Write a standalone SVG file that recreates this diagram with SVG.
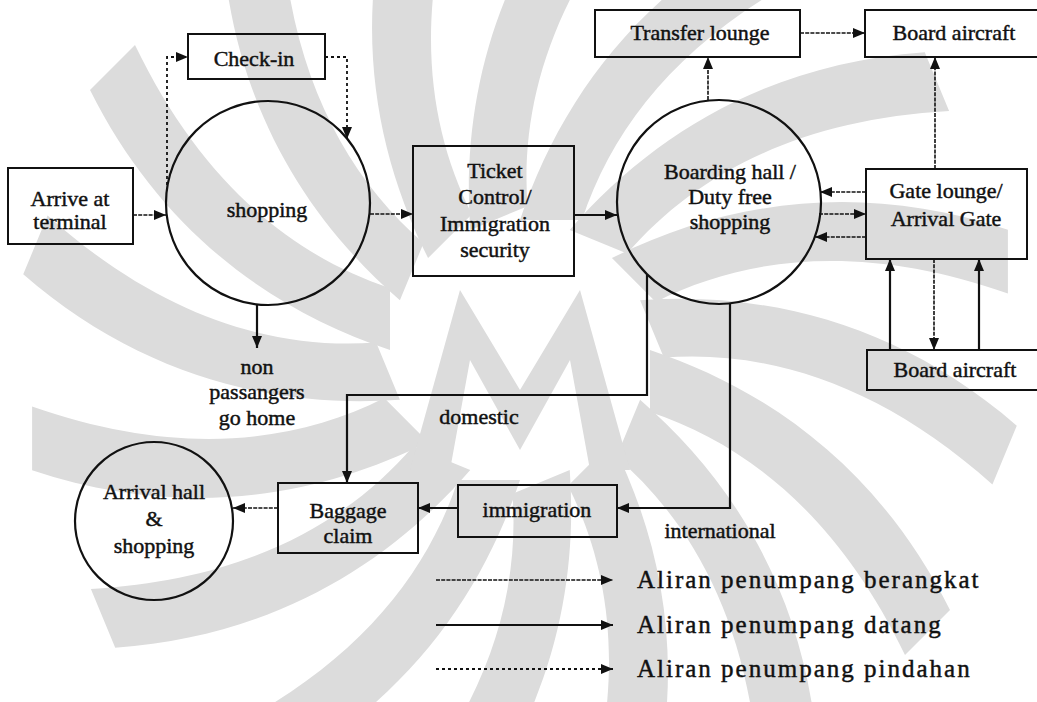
<svg xmlns="http://www.w3.org/2000/svg" xmlns:xlink="http://www.w3.org/1999/xlink" width="1037" height="702" viewBox="0 0 1037 702">
  <style>
    .t { font-family: "Liberation Serif", "Times New Roman", serif; font-size: 22px; fill: #111; stroke: #111; stroke-width: 0.45; text-anchor: middle; }
    .tl { text-anchor: start; font-size: 25px; letter-spacing: 2px; }
    .box { fill: none; stroke: #111; stroke-width: 2; }
    .node { fill: none; stroke: #111; stroke-width: 2.2; }
    .c { fill: none; stroke: #111; }
    .dep { stroke-width: 1.6; stroke-dasharray: 4 1.2; }
    .arr { stroke-width: 2.2; }
    .trf { stroke-width: 1.8; stroke-dasharray: 3 3; }
    .wm { fill: #dcdcdc; }
  </style>
  <defs>
    <marker id="ah" viewBox="0 0 12 10" refX="12" refY="5" markerWidth="12" markerHeight="10" markerUnits="userSpaceOnUse" orient="auto">
      <path d="M0,0 L12,5 L0,10 Z" fill="#111"/>
    </marker>
    <!-- one curved ray of the background emblem -->
    <path id="petal" d="M0,-130 C40,-250 120,-360 260,-430 L305,-385 C170,-320 95,-230 62,-130 Z"/>
  </defs>

  <rect width="1037" height="702" fill="#fff"/>

  <!-- background emblem -->
  <g class="wm" transform="translate(520,350)">
    <use xlink:href="#petal" transform="rotate(0)"/>
    <use xlink:href="#petal" transform="rotate(22.5)"/>
    <use xlink:href="#petal" transform="rotate(45)"/>
    <use xlink:href="#petal" transform="rotate(67.5)"/>
    <use xlink:href="#petal" transform="rotate(90)"/>
    <use xlink:href="#petal" transform="rotate(112.5)"/>
    <use xlink:href="#petal" transform="rotate(135)"/>
    <use xlink:href="#petal" transform="rotate(157.5)"/>
    <use xlink:href="#petal" transform="rotate(180)"/>
    <use xlink:href="#petal" transform="rotate(202.5)"/>
    <use xlink:href="#petal" transform="rotate(225)"/>
    <use xlink:href="#petal" transform="rotate(247.5)"/>
    <use xlink:href="#petal" transform="rotate(270)"/>
    <use xlink:href="#petal" transform="rotate(292.5)"/>
    <use xlink:href="#petal" transform="rotate(315)"/>
    <use xlink:href="#petal" transform="rotate(337.5)"/>
    <path d="M-110,120 L-60,-60 L0,40 L60,-60 L110,120 L70,120 L50,10 L0,100 L-50,10 L-70,120 Z"/>
  </g>

  <!-- connectors -->
  <g id="connectors" class="c">
    <line class="dep" x1="133" y1="215" x2="166" y2="215" marker-end="url(#ah)"/>
    <polyline class="trf" points="167,185 167,57 188,57" marker-end="url(#ah)"/>
    <polyline class="trf" points="325,57 347,57 347,139" marker-end="url(#ah)"/>
    <line class="arr" x1="257" y1="304" x2="257" y2="348" marker-end="url(#ah)"/>
    <line class="dep" x1="370" y1="214" x2="413" y2="214" marker-end="url(#ah)"/>
    <line class="arr" x1="574" y1="215" x2="617" y2="215" marker-end="url(#ah)"/>
    <line class="dep" x1="708" y1="100" x2="708" y2="57" marker-end="url(#ah)"/>
    <line class="dep" x1="800" y1="33" x2="865" y2="33" marker-end="url(#ah)"/>
    <line class="dep" x1="935" y1="169" x2="935" y2="57" marker-end="url(#ah)"/>
    <line class="dep" x1="866" y1="192" x2="820" y2="192" marker-end="url(#ah)"/>
    <line class="dep" x1="819" y1="214" x2="866" y2="214" marker-end="url(#ah)"/>
    <line class="dep" x1="866" y1="237" x2="815" y2="237" marker-end="url(#ah)"/>
    <line class="arr" x1="890" y1="350" x2="890" y2="259" marker-end="url(#ah)"/>
    <line class="dep" x1="934" y1="259" x2="934" y2="350" marker-end="url(#ah)"/>
    <line class="arr" x1="979" y1="350" x2="979" y2="259" marker-end="url(#ah)"/>
    <polyline class="arr" points="647,275 647,395 347,395 347,483" marker-end="url(#ah)"/>
    <polyline class="arr" points="730,303 730,508 617,508" marker-end="url(#ah)"/>
    <line class="arr" x1="458" y1="508" x2="418" y2="508" marker-end="url(#ah)"/>
    <line class="dep" x1="278" y1="508" x2="233" y2="508" marker-end="url(#ah)"/>
  </g>

  <!-- nodes -->
  <g id="arrive">
    <rect class="box" x="8" y="168" width="125" height="76"/>
    <text class="t" x="70" y="206">Arrive at</text>
    <text class="t" x="70" y="229">terminal</text>
  </g>
  <g id="checkin">
    <rect class="box" x="188" y="34" width="137" height="45"/>
    <text class="t" x="254" y="66">Check-in</text>
  </g>
  <g id="shopping">
    <circle class="node" cx="268" cy="203" r="102"/>
    <text class="t" x="267" y="217">shopping</text>
  </g>
  <g id="nonpassengers">
    <text class="t" x="257" y="374">non</text>
    <text class="t" x="257" y="399">passangers</text>
    <text class="t" x="257" y="425">go home</text>
  </g>
  <g id="ticket">
    <rect class="box" x="413" y="146" width="161" height="130"/>
    <text class="t" x="495" y="178">Ticket</text>
    <text class="t" x="495" y="204">Control/</text>
    <text class="t" x="495" y="231">Immigration</text>
    <text class="t" x="495" y="257">security</text>
  </g>
  <g id="boarding">
    <circle class="node" cx="719" cy="202" r="102"/>
    <text class="t" x="730" y="179">Boarding hall /</text>
    <text class="t" x="730" y="204">Duty free</text>
    <text class="t" x="730" y="229">shopping</text>
  </g>
  <g id="transfer">
    <rect class="box" x="595" y="10" width="205" height="47"/>
    <text class="t" x="700" y="40">Transfer lounge</text>
  </g>
  <g id="board-top">
    <rect class="box" x="865" y="10" width="180" height="47"/>
    <text class="t" x="954" y="40">Board aircraft</text>
  </g>
  <g id="gate">
    <rect class="box" x="866" y="169" width="161" height="90"/>
    <text class="t" x="946" y="198">Gate lounge/</text>
    <text class="t" x="946" y="226">Arrival Gate</text>
  </g>
  <g id="board-bottom">
    <rect class="box" x="867" y="350" width="180" height="40"/>
    <text class="t" x="955" y="377">Board aircraft</text>
  </g>
  <g id="domestic-label">
    <text class="t" x="479" y="424">domestic</text>
  </g>
  <g id="international-label">
    <text class="t" x="720" y="538">international</text>
  </g>
  <g id="immigration">
    <rect class="box" x="458" y="485" width="159" height="52"/>
    <text class="t" x="537" y="517">immigration</text>
  </g>
  <g id="baggage">
    <rect class="box" x="278" y="483" width="140" height="70"/>
    <text class="t" x="348" y="518">Baggage</text>
    <text class="t" x="348" y="543">claim</text>
  </g>
  <g id="arrival">
    <circle class="node" cx="154" cy="521" r="79"/>
    <text class="t" x="154" y="499">Arrival hall</text>
    <text class="t" x="154" y="526">&amp;</text>
    <text class="t" x="154" y="553">shopping</text>
  </g>

  <!-- legend -->
  <g id="legend">
    <g class="c">
      <line class="dep" x1="436" y1="580" x2="613" y2="580" marker-end="url(#ah)"/>
      <line class="arr" x1="436" y1="625" x2="613" y2="625" marker-end="url(#ah)"/>
      <line class="trf" x1="436" y1="669" x2="613" y2="669" marker-end="url(#ah)"/>
    </g>
    <text class="t tl" x="637" y="588">Aliran penumpang berangkat</text>
    <text class="t tl" x="637" y="633">Aliran penumpang datang</text>
    <text class="t tl" x="637" y="677">Aliran penumpang pindahan</text>
  </g>
</svg>
